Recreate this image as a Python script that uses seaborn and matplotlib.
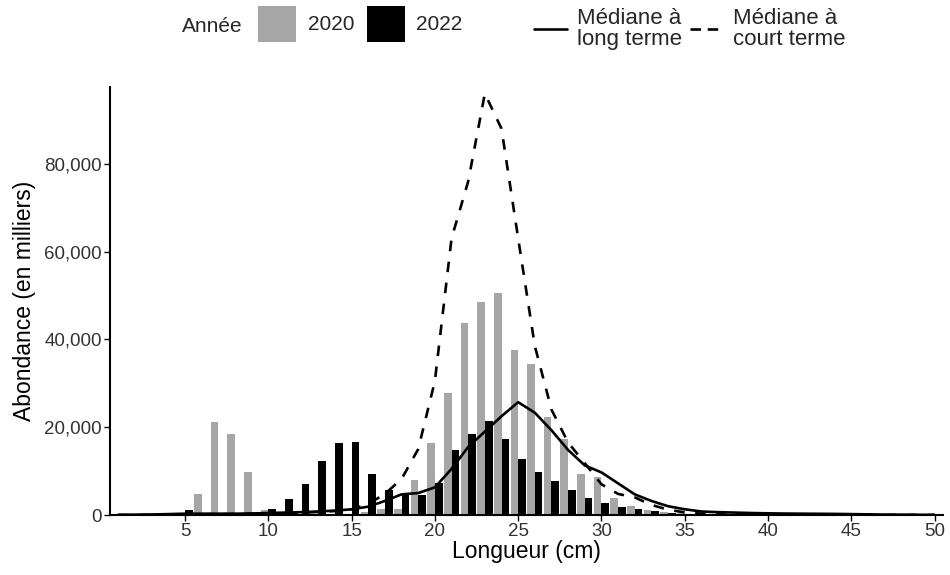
import numpy as np
import pandas as pd
import matplotlib
matplotlib.use('Agg')
import matplotlib.pyplot as plt
import matplotlib.ticker as mticker
from matplotlib.patches import Patch
from matplotlib.lines import Line2D
import seaborn as sns

# Longueurs (cm)
longueurs = list(range(1, 51))

# Abondance (en milliers) par année
abond_2020 = [0, 0, 0, 0, 0, 4700, 21200, 18400, 9900, 1100,
              200, 100, 100, 200, 300, 600, 1300, 1400, 8000, 16300,
              27900, 43800, 48600, 50600, 37700, 34400, 22400, 17200, 9300, 8600,
              3900, 2100, 1150, 600, 400, 200, 100, 50, 0, 0,
              0, 0, 0, 0, 0, 0, 0, 0, 0, 0]
abond_2022 = [0, 0, 50, 300, 1100, 150, 100, 100, 200, 1400,
              3600, 7000, 12200, 16500, 16700, 9400, 5700, 4800, 4600, 7300,
              14800, 18400, 21500, 17300, 12700, 9800, 7800, 5800, 3800, 2650,
              1900, 1350, 800, 500, 300, 150, 80, 50, 0, 0,
              0, 0, 0, 0, 0, 0, 0, 0, 0, 0]

# Médianes
mediane_long = [50, 80, 120, 200, 300, 300, 300, 300, 350, 450,
                550, 650, 800, 1000, 1300, 1900, 3200, 4700, 5000, 6300,
                10500, 15500, 19000, 22500, 25700, 23300, 19300, 14800, 11300, 9700,
                7200, 4700, 3200, 2000, 1300, 800, 650, 550, 450, 380,
                330, 300, 280, 250, 200, 150, 100, 80, 50, 30]
mediane_court = [0, 0, 0, 50, 100, 150, 200, 200, 250, 300,
                 400, 500, 700, 900, 1300, 2500, 4800, 8200, 15000, 30500,
                 63000, 76000, 96000, 88000, 63000, 38500, 24000, 16500, 11800, 7000,
                 4800, 4000, 2300, 1200, 600, 300, 150, 80, 50, 40,
                 30, 20, 10, 10, 0, 0, 0, 0, 0, 0]

df_bars = pd.DataFrame({
    'Longueur': longueurs * 2,
    'Abondance': abond_2020 + abond_2022,
    'Année': ['2020'] * 50 + ['2022'] * 50,
})
df_lines = pd.DataFrame({
    'Longueur': longueurs,
    'long': mediane_long,
    'court': mediane_court,
})

sns.set_theme(style='ticks')
plt.rcParams['font.family'] = ['Liberation Sans', 'DejaVu Sans']

gris = '#A6A6A6'
fig, ax = plt.subplots(figsize=(9.5, 5.75), dpi=100)
fig.subplots_adjust(left=110/950, right=943/950, bottom=1-515/575, top=1-87/575)

sns.barplot(data=df_bars, x='Longueur', y='Abondance', hue='Année',
            palette={'2020': gris, '2022': 'black'}, native_scale=True,
            width=0.92, dodge=True, linewidth=0, ax=ax, legend=False)

sns.lineplot(data=df_lines, x='Longueur', y='long', color='black',
             linewidth=1.9, ax=ax)
sns.lineplot(data=df_lines, x='Longueur', y='court', color='black',
             linewidth=1.9, ax=ax)
ax.lines[-1].set_dashes((4, 4))

ax.set_xlim(0.5, 50.5)
ax.set_ylim(0, 97500)
ax.set_xticks(range(5, 51, 5))
ax.set_yticks(range(0, 80001, 20000))
ax.yaxis.set_major_formatter(mticker.FuncFormatter(lambda v, p: f'{int(v):,}'))
ax.tick_params(labelsize=13.5, colors='black', labelcolor='#333333', length=4, width=1, pad=2)
for s in ['left', 'bottom']:
    ax.spines[s].set_linewidth(1.5)
    ax.spines[s].set_color('black')
sns.despine(ax=ax)

ax.set_xlabel('Longueur (cm)', fontsize=16.5, color='black')
ax.set_ylabel('Abondance (en milliers)', fontsize=16.5, color='black')
ax.yaxis.set_label_coords(-(110 - 36) / 833, 0.5)
ax.xaxis.set_label_coords(0.5, -(540 - 515) / 428)

# Légendes en haut
fs = 15
fig.text(182/950, 1-26/575, 'Année', fontsize=fs, va='center', ha='left')
h_bars = [Patch(facecolor=gris, edgecolor='none'), Patch(facecolor='black', edgecolor='none')]
leg1 = fig.legend(h_bars, ['2020', '2022'], ncol=2, loc='center left',
                  bbox_to_anchor=(258/950, 1-24/575), frameon=False, fontsize=fs,
                  handlelength=1.83, handleheight=2.3, handletextpad=0.55,
                  columnspacing=0.6, borderaxespad=0, borderpad=0)
h_lines = [Line2D([], [], color='black', linewidth=1.9),
           Line2D([], [], color='black', linewidth=1.9, dashes=(4, 2.5))]
leg2 = fig.legend(h_lines, ['Médiane à\nlong terme', 'Médiane à\ncourt terme'],
                  ncol=2, loc='center left', bbox_to_anchor=(534/950, 1-29/575),
                  frameon=False, fontsize=16, handlelength=1.48, handletextpad=0.45,
                  columnspacing=0.35, borderaxespad=0, borderpad=0,
                  labelspacing=0.1)
for t in leg2.get_texts():
    t.set_linespacing(1.0)

fig.savefig('out.png', dpi=100)
